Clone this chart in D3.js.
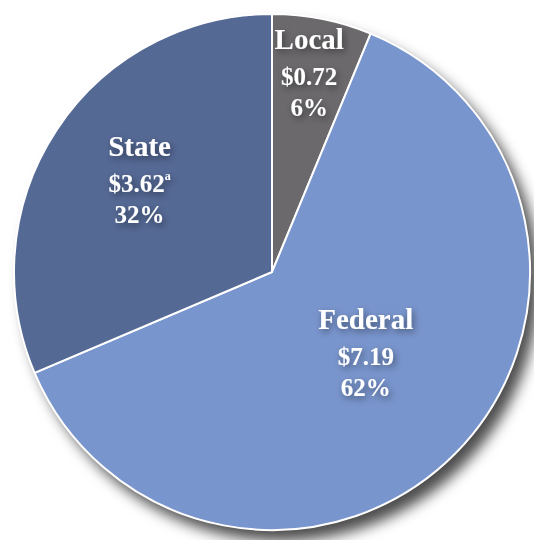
<!DOCTYPE html>
<html>
<head>
<meta charset="utf-8">
<script src="https://cdn.jsdelivr.net/npm/d3@7"></script>
<style>
  body { margin: 0; background: #fff; }
  svg { display: block; }
  text { font-family: 'Liberation Serif', 'DejaVu Serif', serif; font-weight: bold; fill: #fff; }
</style>
</head>
<body>
<svg id="chart" width="534" height="540"></svg>
<script>
// funding sources, billions of dollars
const sources = ['Local', 'Federal', 'State']
const amounts = [0.72, 7.19, 3.62]
const amountLabels = ['$0.72', '$7.19', '$3.62']
const percentLabels = ['6%', '62%', '32%']
const footnotes = ['', '', 'a']

const colors = { Local: '#6b696c', Federal: '#7995cd', State: '#556995' }
// how far from the centre each label block sits
const labelR = { Local: 191, Federal: 132, State: 154 }

const width = 534, height = 540
const cx = 272, cy = 272, radius = 258

const svg = d3.select('#chart')

const defs = svg.append('defs')
const shadow = defs.append('filter').attr('id', 'shadow')
    .attr('x', '-20%').attr('y', '-20%').attr('width', '140%').attr('height', '140%')
shadow.append('feDropShadow').attr('dx', 9).attr('dy', 11).attr('stdDeviation', 7)
    .attr('flood-color', '#000').attr('flood-opacity', 0.7)

const txtShadow = defs.append('filter').attr('id', 'tshadow')
    .attr('x', '-30%').attr('y', '-30%').attr('width', '160%').attr('height', '160%')
txtShadow.append('feDropShadow').attr('dx', 2).attr('dy', 3).attr('stdDeviation', 3.5)
    .attr('flood-color', '#000').attr('flood-opacity', 0.45)

const data = sources.map((s, i) => ({
    source: s, value: amounts[i], amount: amountLabels[i], pct: percentLabels[i], note: footnotes[i]
}))

const pie = d3.pie().sort(null).value(d => d.value)
const arc = d3.arc().innerRadius(0).outerRadius(radius)

const g = svg.append('g').attr('transform', `translate(${cx},${cy})`)

// shadow disc behind the pie
g.append('circle').attr('r', radius).attr('fill', '#fff').attr('filter', 'url(#shadow)')

const arcs = pie(data)

g.selectAll('path.slice').data(arcs).enter().append('path')
    .attr('class', 'slice')
    .attr('d', arc)
    .attr('fill', d => colors[d.data.source])
    .attr('stroke', '#fff')
    .attr('stroke-width', 2)

const labels = g.selectAll('g.label').data(arcs).enter().append('g')
    .attr('class', 'label')
    .attr('filter', 'url(#tshadow)')
    .attr('transform', d => {
        const r = labelR[d.data.source]
        const a = (d.startAngle + d.endAngle) / 2
        return `translate(${r * Math.sin(a) - (d.data.source === 'State' ? 4 : 0)},${-r * Math.cos(a) + (d.data.source === 'State' ? 5 : 0)})`
    })

labels.append('text')
    .attr('text-anchor', 'middle')
    .attr('y', -36)
    .style('font-size', '29px')
    .text(d => d.data.source)

const amt = labels.append('text')
    .attr('text-anchor', 'middle')
    .attr('y', 0)
    .style('font-size', '25px')
amt.append('tspan').text(d => d.data.amount)
amt.append('tspan').attr('dy', -12).style('font-size', '12px').text(d => d.data.note)

labels.append('text')
    .attr('text-anchor', 'middle')
    .attr('y', 31)
    .style('font-size', '25px')
    .text(d => d.data.pct)
</script>
</body>
</html>
